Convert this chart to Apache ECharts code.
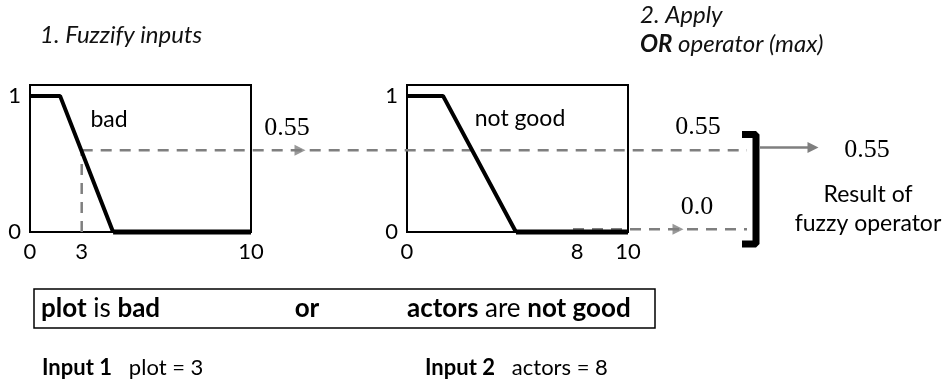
<!DOCTYPE html>
<html>
<head>
<meta charset="utf-8">
<script src="https://cdn.jsdelivr.net/npm/echarts@6/dist/echarts.min.js"></script>
<style>
  html, body { margin: 0; padding: 0; background: #fff; }
  #chart { width: 949px; height: 390px; }
</style>
</head>
<body>
<div id="chart"></div>
<script>
// membership functions, x in input units (0..10), y in membership (0..1)
const badCurve = [[0, 1], [1.36, 1], [3.76, 0]]
const badFloor = [[3.76, 0], [10, 0]]
const notGoodCurve = [[0, 1], [1.63, 1], [4.93, 0]]
const notGoodFloor = [[4.93, 0], [10, 0]]

// tick labels as drawn in the picture (picture is not to scale)
const xTicks1 = [0, 2.34, 10]
const xTickText1 = ['0', '3', '10']
const xTicks2 = [0, 7.7, 10]
const xTickText2 = ['0', '8', '10']

// connector overlay: x in page pixels, y in membership units
const level1 = 0.6
const level2 = 0.02
const input1Drop = [[81.7, 0], [81.7, level1]]
const level1Line = [[81.7, level1], [747, level1]]
const level2Line = [[573, level2], [747, level2]]
const arrowHeads = [[300, level1], [678, level2]]
const resultArrow = [[760, 0.62], [813, 0.62]]
const bracket = [[742, 0.717], [756, 0.717], [756, -0.088], [742, -0.088]]

const SANS = 'Lato, "Open Sans", sans-serif'
const SERIF = '"Liberation Serif", serif'
const GREY = '#7f7f7f'
const DASH = [11, 8]

const chart = echarts.init(document.getElementById('chart'), null, { renderer: 'canvas' })

const plotGrid = left => ({
  left: left, top: 85, width: 221, height: 147,
  show: true, borderColor: '#000', borderWidth: 2, containLabel: false
})

const xAxisFor = (idx, ticks, texts) => ({
  type: 'value', gridIndex: idx, min: 0, max: 10,
  axisLine: { show: false }, splitLine: { show: false },
  axisTick: { show: false },
  axisLabel: {
    customValues: ticks, margin: 9,
    fontFamily: SANS, fontSize: 22, color: '#000',
    formatter: v => texts[ticks.indexOf(v)]
  }
})

const yAxisFor = idx => ({
  type: 'value', gridIndex: idx, min: 0, max: 1.08, interval: 1,
  axisLine: { show: false }, splitLine: { show: false }, axisTick: { show: false },
  axisLabel: { margin: 9, fontFamily: SANS, fontSize: 22, color: '#000' }
})

const curve = (idx, data, width) => ({
  type: 'line', xAxisIndex: idx, yAxisIndex: idx, data: data,
  showSymbol: false, clip: false, z: 5,
  lineStyle: { color: '#000', width: width }
})

const overlayLine = (data, color, width, type) => ({
  type: 'line', xAxisIndex: 2, yAxisIndex: 2, data: data,
  showSymbol: false, clip: false, z: 4,
  lineStyle: { color: color, width: width, type: type }
})

const label = (x, y, text, font) => ({
  type: 'text', x: x, y: y,
  style: { text: text, font: font, fill: '#000', align: 'center', verticalAlign: 'middle' }
})

const richLine = (x, y, text, size) => ({
  type: 'text', x: x, y: y,
  style: {
    text: text, font: `${size}px ${SANS}`, fill: '#000', verticalAlign: 'middle',
    rich: { b: { fontWeight: 'bold', fontFamily: SANS, fontSize: size } }
  }
})

chart.setOption({
  animation: false,
  grid: [
    plotGrid(30),
    plotGrid(407),
    { left: 0, top: 85, width: 949, height: 147, show: false }
  ],
  xAxis: [
    xAxisFor(0, xTicks1, xTickText1),
    xAxisFor(1, xTicks2, xTickText2),
    { type: 'value', gridIndex: 2, min: 0, max: 949, show: false }
  ],
  yAxis: [
    yAxisFor(0),
    yAxisFor(1),
    { type: 'value', gridIndex: 2, min: 0, max: 1.08, show: false }
  ],
  series: [
    curve(0, badCurve, 4),
    curve(0, badFloor, 5),
    curve(1, notGoodCurve, 4),
    curve(1, notGoodFloor, 5),
    overlayLine(input1Drop, GREY, 2.5, DASH),
    overlayLine(level1Line, GREY, 2.5, DASH),
    overlayLine(level2Line, GREY, 2.5, DASH),
    overlayLine(bracket, '#000', 7, 'solid'),
    {
      type: 'lines', coordinateSystem: 'cartesian2d', xAxisIndex: 2, yAxisIndex: 2,
      clip: false, z: 4,
      symbol: ['none', 'triangle'], symbolSize: 11,
      lineStyle: { color: GREY, width: 2.5, opacity: 1 },
      data: [{ coords: resultArrow }]
    },
    {
      type: 'scatter', xAxisIndex: 2, yAxisIndex: 2, data: arrowHeads,
      clip: false, z: 6, symbol: 'triangle', symbolRotate: -90, symbolSize: [11, 11],
      itemStyle: { color: GREY }
    }
  ],
  graphic: [
    { type: 'text', x: 40, y: 35, style: { text: '1. Fuzzify inputs', font: `italic 24px ${SANS}`, fill: '#111', verticalAlign: 'middle' } },
    { type: 'text', x: 640, y: 15, style: { text: '2. Apply', font: `italic 24px ${SANS}`, fill: '#111', verticalAlign: 'middle' } },
    {
      type: 'text', x: 640, y: 44,
      style: {
        text: '{b|OR} operator (max)', font: `italic 24px ${SANS}`, fill: '#111', verticalAlign: 'middle',
        rich: { b: { fontWeight: 'bold', fontStyle: 'italic', fontFamily: SANS, fontSize: 24 } }
      }
    },
    label(109, 120, 'bad', `23px ${SANS}`),
    label(520, 119, 'not good', `23px ${SANS}`),
    label(287, 128, '0.55', `26px ${SERIF}`),
    label(698, 127, '0.55', `26px ${SERIF}`),
    label(697, 207, '0.0', `26px ${SERIF}`),
    label(867, 150, '0.55', `26px ${SERIF}`),
    label(868, 195, 'Result of', `23px ${SANS}`),
    label(868, 224, 'fuzzy operator', `23px ${SANS}`),
    {
      type: 'rect', shape: { x: 34, y: 289, width: 621, height: 39 },
      style: { fill: '#fff', stroke: '#000', lineWidth: 1.5 }
    },
    richLine(41, 309, '{b|plot} is {b|bad}', 26),
    label(307, 309, 'or', `bold 26px ${SANS}`),
    richLine(407, 309, '{b|actors} are {b|not good}', 26),
    richLine(42, 368, '{b|Input 1}   plot = 3', 22),
    richLine(425, 368, '{b|Input 2}   actors = 8', 22)
  ]
})
</script>
</body>
</html>
